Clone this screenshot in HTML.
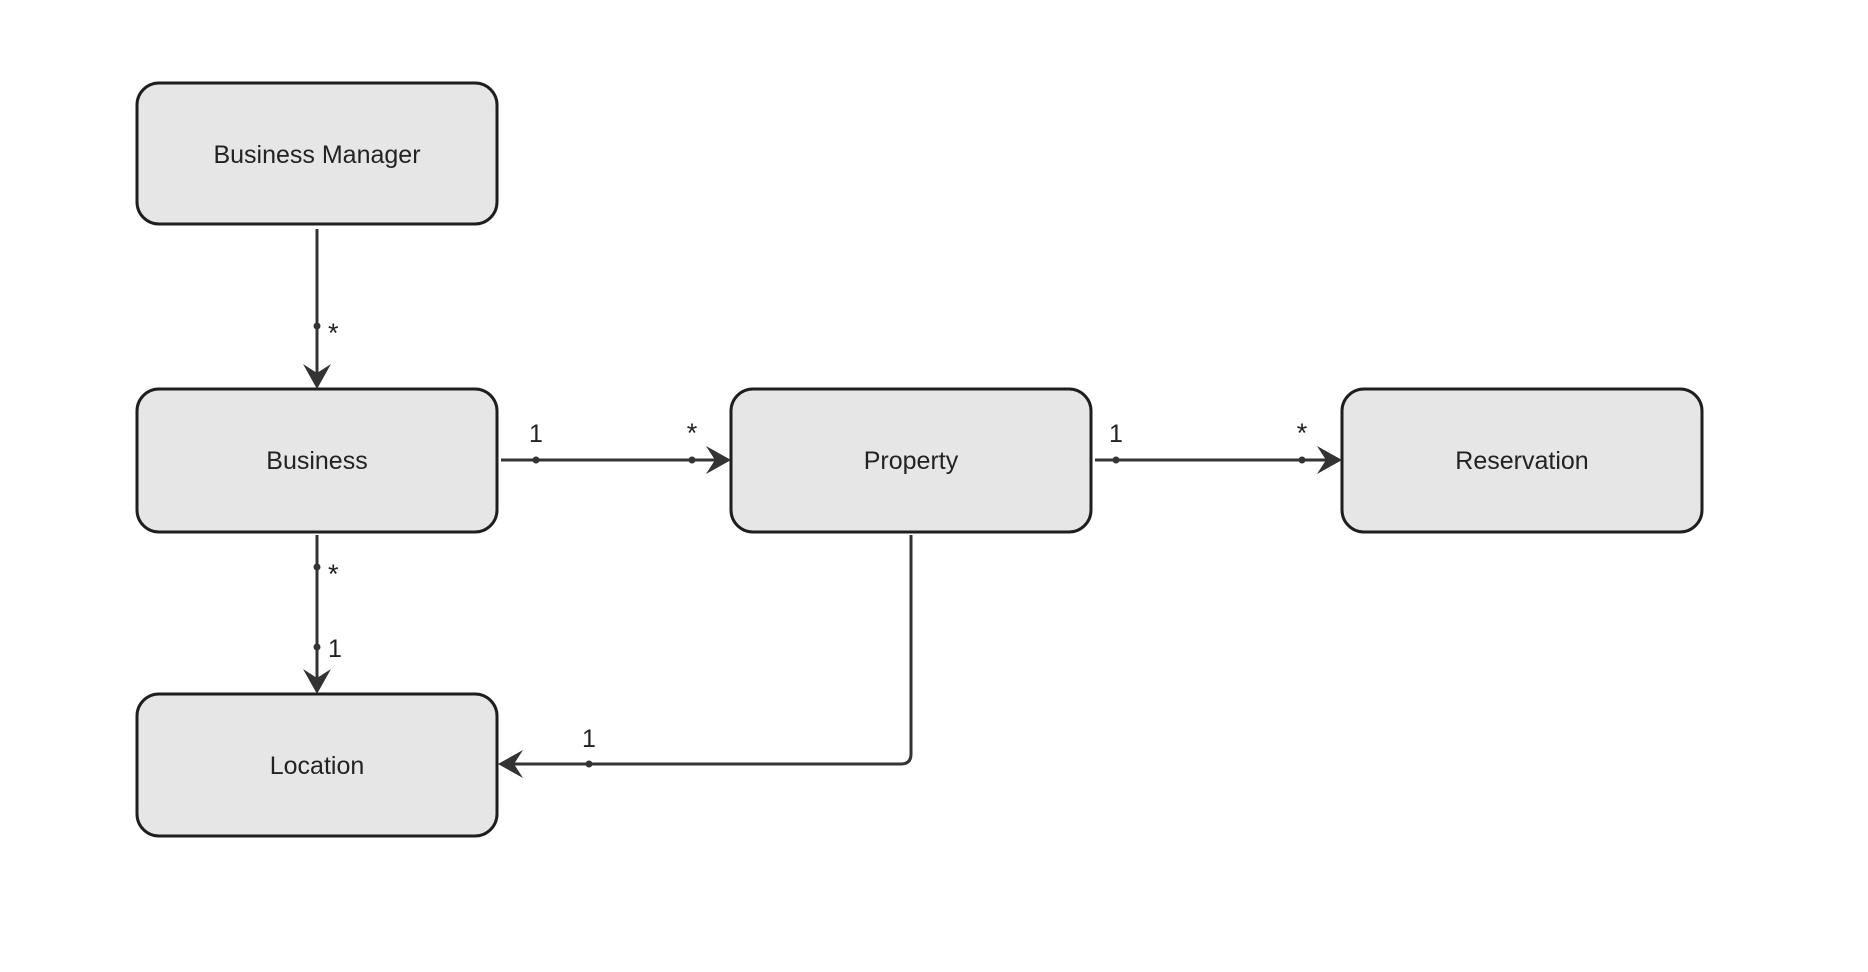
<!DOCTYPE html>
<html><head><meta charset="utf-8"><style>
html,body{margin:0;padding:0;background:#fff;}
svg{display:block;}
text{font-family:"Liberation Sans",sans-serif;fill:#222;}
</style></head><body>
<svg width="1868" height="972" viewBox="0 0 1868 972" xmlns="http://www.w3.org/2000/svg">
<g fill="#e6e6e6" stroke="#1e1e1e" stroke-width="3">
<rect x="137" y="83" width="360" height="141" rx="22"/>
<rect x="137" y="389" width="360" height="143" rx="22"/>
<rect x="137" y="694" width="360" height="142" rx="22"/>
<rect x="731" y="389" width="360" height="143" rx="22"/>
<rect x="1342" y="389" width="360" height="143" rx="22"/>
</g>
<g font-size="25" text-anchor="middle">
<text x="317" y="163">Business Manager</text>
<text x="317" y="469">Business</text>
<text x="317" y="774">Location</text>
<text x="911" y="469">Property</text>
<text x="1522" y="469">Reservation</text>
</g>
<g stroke="#333" stroke-width="3" fill="none">
<line x1="317" y1="229" x2="317" y2="383"/>
<line x1="501" y1="460" x2="724" y2="460"/>
<line x1="1095" y1="460" x2="1335" y2="460"/>
<line x1="317" y1="535" x2="317" y2="688"/>
<path d="M911 535 V754 Q911 764 901 764 H505"/>
</g>
<g fill="#333">
<path d="M317 389 L303 364 L317 373 L331 364 Z"/>
<path d="M317 694 L303 669 L317 678 L331 669 Z"/>
<path d="M731 460 L706 446 L715 460 L706 474 Z"/>
<path d="M1342 460 L1317 446 L1326 460 L1317 474 Z"/>
<path d="M498 764 L523 750 L514 764 L523 778 Z"/>
<circle cx="317" cy="326" r="3.5"/>
<circle cx="536" cy="460" r="3.5"/>
<circle cx="692" cy="460" r="3.5"/>
<circle cx="1116" cy="460" r="3.5"/>
<circle cx="1302" cy="460" r="3.5"/>
<circle cx="317" cy="567" r="3.5"/>
<circle cx="317" cy="647" r="3.5"/>
<circle cx="589" cy="764" r="3.5"/>
</g>
<g font-size="25">
<text x="328" y="342" font-size="27">*</text>
<text x="536" y="442" text-anchor="middle">1</text>
<text x="692" y="442" text-anchor="middle" font-size="27">*</text>
<text x="1116" y="442" text-anchor="middle">1</text>
<text x="1302" y="442" text-anchor="middle" font-size="27">*</text>
<text x="328" y="583" font-size="27">*</text>
<text x="328" y="657">1</text>
<text x="589" y="747" text-anchor="middle">1</text>
</g>
</svg>
</body></html>
